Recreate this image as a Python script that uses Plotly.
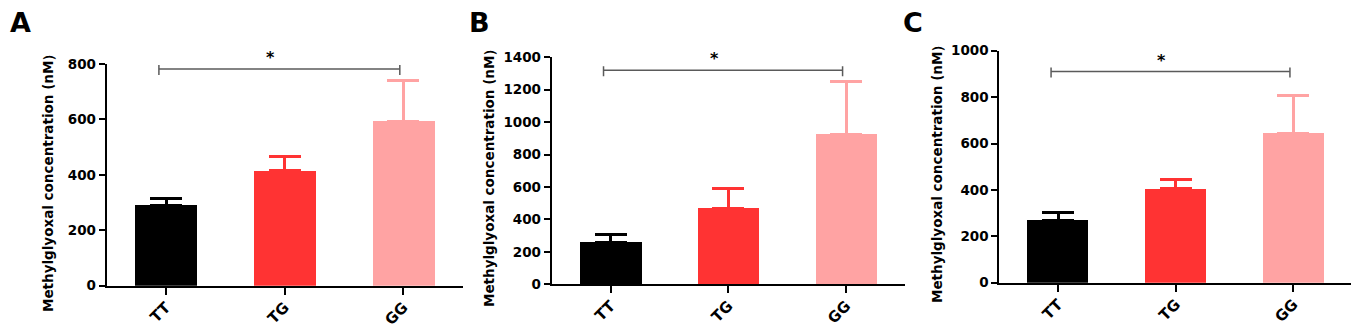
import plotly.graph_objects as go

categories = ["TT", "TG", "GG"]
colors = ["#000000", "#FF3333", "#FFA3A3"]

panel_labels = ["A", "B", "C"]
means_A = [290, 414, 594]
errs_A = [26, 53, 145]
means_B = [257, 469, 923]
errs_B = [53, 119, 325]
means_C = [270, 407, 645]
errs_C = [33, 36, 161]
y_max = [800, 1400, 1000]
y_dtick = [200, 200, 200]
sig_y = [782, 1320, 910]
sig_text = "*"
y_title = "Methylglyoxal concentration (nM）"

W, H = 1359, 329
OFF = 8  # page body margin in the viewer; positions below are in screen pixels
FONT = "DejaVu Sans, sans-serif"


def fx(px):
    return (px - OFF) / W


def fy(py):
    return 1 - (py - OFF) / H


# screen-pixel layout of each panel: (x_left, x_right, y_bottom, y_top)
panels_px = [(106.7, 462.7, 285.7, 64.0),
             (551.7, 905.0, 284.3, 57.3),
             (999.3, 1352.3, 282.7, 50.7)]
title_px = [(48, 180), (489, 175), (937, 171)]
letter_px = [8, 467, 901]

means = [means_A, means_B, means_C]
errs = [errs_A, errs_B, errs_C]

fig = go.Figure()
shapes = []
annotations = []
for i in range(3):
    xa = "x" if i == 0 else f"x{i+1}"
    ya = "y" if i == 0 else f"y{i+1}"
    for j, cat in enumerate(categories):
        fig.add_trace(go.Bar(
            x=[cat], y=[means[i][j]], xaxis=xa, yaxis=ya,
            marker=dict(color=colors[j], line=dict(width=0)),
            width=0.52, showlegend=False,
            error_y=dict(type="data", symmetric=False, array=[errs[i][j]],
                         arrayminus=[0], color=colors[j], thickness=3, width=16),
            cliponaxis=False,
        ))
    xl, xr, yb, yt = panels_px[i]
    lay_x = dict(domain=[fx(xl), fx(xr)], range=[-0.5, 2.5], type="category",
                 categoryorder="array", categoryarray=categories,
                 showline=True, linecolor="black", linewidth=2,
                 ticks="outside", ticklen=7, tickwidth=2, tickcolor="black",
                 tickangle=-45, showgrid=False, zeroline=False, automargin=False,
                 ticklabelstandoff=-2,
                 tickfont=dict(family=FONT, size=15, color="black", weight="bold"),
                 anchor=ya)
    lay_y = dict(domain=[fy(yb), fy(yt)], range=[0, y_max[i]],
                 dtick=y_dtick[i], showline=True, linecolor="black", linewidth=2,
                 ticks="outside", ticklen=6, tickwidth=2, tickcolor="black",
                 showgrid=False, zeroline=False, automargin=False,
                 tickfont=dict(family=FONT, size=13.5, color="black", weight="bold"),
                 anchor=xa)
    fig.layout[("xaxis" if i == 0 else f"xaxis{i+1}")] = lay_x
    fig.layout[("yaxis" if i == 0 else f"yaxis{i+1}")] = lay_y

    # significance bracket
    bx0, bx1 = -0.06, 1.97
    shapes.append(dict(type="line", xref=xa, yref=ya, x0=bx0, x1=bx1,
                       y0=sig_y[i], y1=sig_y[i], line=dict(color="#5a5a5a", width=1.5)))
    for bx in (bx0, bx1):
        shapes.append(dict(type="line", xref=xa, yref=ya, x0=bx, x1=bx,
                           ysizemode="pixel", yanchor=sig_y[i], y0=-6, y1=4,
                           line=dict(color="#5a5a5a", width=1.5)))
    annotations.append(dict(xref=xa, yref=ya, x=0.88, y=sig_y[i], text=sig_text,
                            showarrow=False, yanchor="bottom", yshift=0,
                            font=dict(family=FONT, size=16, color="black", weight="bold")))
    # y axis title
    tx, ty = title_px[i]
    annotations.append(dict(xref="paper", yref="paper", x=fx(tx), y=fy(ty),
                            text=y_title, textangle=-90, showarrow=False,
                            xanchor="center", yanchor="middle",
                            font=dict(family=FONT, size=13.5, color="black", weight="bold")))
    # panel letter
    annotations.append(dict(xref="paper", yref="paper", x=fx(letter_px[i]), y=fy(8),
                            text=panel_labels[i], showarrow=False,
                            xanchor="left", yanchor="top", yshift=3,
                            font=dict(family=FONT, size=27, color="black", weight="bold")))

fig.update_layout(template="none", width=W, height=H,
                  margin=dict(l=0, r=0, t=0, b=0, pad=0),
                  paper_bgcolor="white", plot_bgcolor="white",
                  bargap=0, shapes=shapes, annotations=annotations)
fig.write_html("out.html")
